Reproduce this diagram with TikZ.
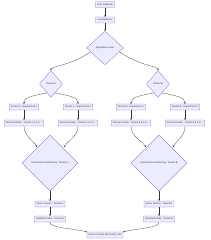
\documentclass[tikz,border=0pt]{standalone}
\usepackage{fontspec}
\setmainfont{Liberation Sans}
\usetikzlibrary{shapes.geometric,arrows.meta}
\definecolor{mfill}{HTML}{ECECFF}
\definecolor{mstroke}{HTML}{9370DB}
\definecolor{mline}{HTML}{333333}
\begin{document}
\begin{tikzpicture}[x=1pt,y=-1pt,
  every node/.style={font=\fontsize{2.4}{3}\selectfont, text=mline},
  bx/.style={draw=mstroke, fill=mfill, line width=0.3pt, rounded corners=0.3pt, inner xsep=1.6pt, inner ysep=0pt, minimum height=6pt},
  dm/.style={draw=mstroke, fill=mfill, line width=0.3pt, diamond, inner sep=0pt},
  ar/.style={draw=mline, line width=0.25pt, -{Stealth[length=1.6pt,width=1.6pt]}}]
\useasboundingbox (0,0) rectangle (210,240);
\node[bx] (ur) at (105,4.5) {User Requests};
\node[bx] (lb) at (105,20) {Load Balancer};
\node[dm, minimum width=37pt, minimum height=34pt] (app) at (105,48) {Application Layer};
\node[dm, minimum width=23pt, minimum height=27pt] (ta) at (51,84) {Tenant A};
\node[dm, minimum width=23pt, minimum height=27pt] (tb) at (158,84) {Tenant B};
\node[bx] (a1) at (24,107) {Tenant A - Department 1};
\node[bx] (a2) at (78,107) {Tenant A - Department 2};
\node[bx] (b1) at (131,107) {Tenant B - Department 1};
\node[bx] (b2) at (185,107) {Tenant B - Department 2};
\node[bx] (ra1) at (24,123) {ResourceIndex - Tenant A 1,2,3,...};
\node[bx] (ra2) at (78,123) {ResourceIndex - Tenant A 1,2,3,...};
\node[bx] (rb1) at (131,123) {ResourceIndex - Tenant B 1,2,3,...};
\node[bx] (rb2) at (185,123) {ResourceIndex - Tenant B 1,2,3,...};
\node[dm, minimum width=56pt, minimum height=56pt] (ha) at (50,163) {Hierarchical Partitioning - Tenant A};
\node[dm, minimum width=56pt, minimum height=56pt] (hb) at (159,163) {Hierarchical Partitioning - Tenant B};
\node[bx] (va) at (50,204) {Vector Search - Tenant A};
\node[bx] (da) at (50,219) {DiskANN Index - Tenant A};
\node[bx] (vb) at (159,204) {Vector Search - Tenant B};
\node[bx] (db) at (159,219) {DiskANN Index - Tenant B};
\node[bx] (az) at (105,235) {Azure Cosmos DB NoSQL API};
\draw[ar] (ur) -- (lb);
\draw[ar] (lb) -- (app);
\draw[ar] (app.west) ++(4,4) .. controls (70,66) and (51,66) .. (ta.north);
\draw[ar] (app.east) ++(-4,4) .. controls (140,66) and (158,66) .. (tb.north);
\draw[ar] (ta.south west) ++(2,2) .. controls (30,96) and (24,98) .. (a1.north);
\draw[ar] (ta.south east) ++(-2,2) .. controls (72,96) and (78,98) .. (a2.north);
\draw[ar] (tb.south west) ++(2,2) .. controls (137,96) and (131,98) .. (b1.north);
\draw[ar] (tb.south east) ++(-2,2) .. controls (179,96) and (185,98) .. (b2.north);
\draw[ar] (a1) -- (ra1);
\draw[ar] (a2) -- (ra2);
\draw[ar] (b1) -- (rb1);
\draw[ar] (b2) -- (rb2);
\draw[ar] (ra1.south) .. controls (24,136) and (33,140) .. (37,147);
\draw[ar] (ra2.south) .. controls (78,136) and (69,140) .. (64,147);
\draw[ar] (rb1.south) .. controls (131,136) and (141,140) .. (146,147);
\draw[ar] (rb2.south) .. controls (185,136) and (177,140) .. (173,147);
\draw[ar] (ha) -- (va);
\draw[ar] (hb) -- (vb);
\draw[ar] (va) -- (da);
\draw[ar] (vb) -- (db);
\draw[ar] (da.south) .. controls (50,228) and (70,228) .. (az.north west);
\draw[ar] (db.south) .. controls (159,228) and (140,228) .. (az.north east);
\end{tikzpicture}
\end{document}
